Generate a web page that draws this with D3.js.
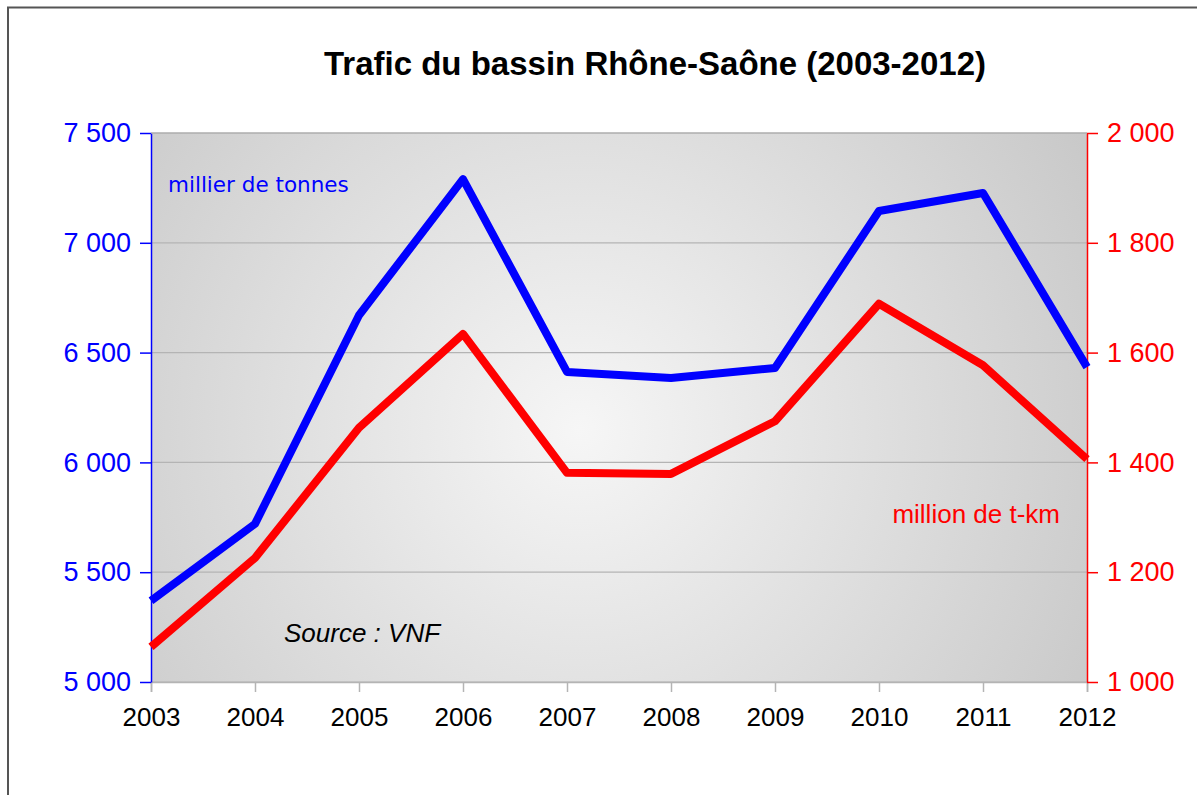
<!DOCTYPE html>
<html>
<head>
<meta charset="utf-8">
<script src="https://cdn.jsdelivr.net/npm/d3@7"></script>
<style>
body { margin: 0; background: #fff; }
text { font-family: "Liberation Sans", Arial, sans-serif; }
</style>
</head>
<body>
<script>
// data
var years = [2003, 2004, 2005, 2006, 2007, 2008, 2009, 2010, 2011, 2012];
var tonnes = [5370, 5720, 6670, 7290, 6412, 6384, 6430, 7145, 7227, 6434];
var tkm = [1064, 1226, 1463, 1634, 1381, 1379, 1475, 1689, 1577, 1406];
var leftTicks = [5000, 5500, 6000, 6500, 7000, 7500];
var rightTicks = [1000, 1200, 1400, 1600, 1800, 2000];

var W = 1197, H = 795;
var m = {left: 151, right: 1087, top: 133, bottom: 682};

var svg = d3.select("body").append("svg")
	.attr("width", W)
	.attr("height", H);

var defs = svg.append("defs");
var grad = defs.append("radialGradient")
	.attr("id", "bg")
	.attr("gradientUnits", "userSpaceOnUse")
	.attr("cx", 580).attr("cy", 430).attr("r", 580);
grad.append("stop").attr("offset", "0%").attr("stop-color", "#f6f6f6");
grad.append("stop").attr("offset", "100%").attr("stop-color", "#c9c9c9");

// frame
svg.append("path")
	.attr("d", "M8," + H + "V7.5H" + W)
	.attr("fill", "none")
	.attr("stroke", "#555")
	.attr("stroke-width", 2);

var x = d3.scaleLinear().domain([2003, 2012]).range([m.left, m.right]);
var yL = d3.scaleLinear().domain([5000, 7500]).range([m.bottom, m.top]);
var yR = d3.scaleLinear().domain([1000, 2000]).range([m.bottom, m.top]);

svg.append("rect")
	.attr("x", m.left).attr("y", m.top)
	.attr("width", m.right - m.left)
	.attr("height", m.bottom - m.top)
	.attr("fill", "url(#bg)");

// grid
svg.selectAll("line.grid")
	.data(leftTicks)
	.enter()
	.append("line")
	.attr("class", "grid")
	.attr("x1", m.left).attr("x2", m.right)
	.attr("y1", function(d) { return yL(d); })
	.attr("y2", function(d) { return yL(d); })
	.attr("stroke", "#b4b4b4")
	.attr("stroke-width", 1.2);

svg.append("text")
	.attr("x", 655).attr("y", 75)
	.attr("text-anchor", "middle")
	.style("font-size", "33px")
	.style("font-weight", "bold")
	.text("Trafic du bassin Rhône-Saône (2003-2012)");

// bottom axis
var xAxis = svg.append("g")
	.attr("transform", "translate(0," + m.bottom + ")")
	.call(d3.axisBottom(x).tickValues(years).tickFormat(d3.format("d")).tickSize(10).tickPadding(16));
xAxis.select(".domain").attr("stroke", "#b4b4b4").attr("stroke-width", 1.5);
xAxis.selectAll(".tick line").attr("stroke", "#b4b4b4").attr("stroke-width", 1.5);
xAxis.selectAll("text").attr("fill", "#000").style("font-size", "26px").style("font-family", "Liberation Sans, Arial, sans-serif");

var fmt = function(d) { return d3.format(",")(d).replace(",", " "); };

var lAxis = svg.append("g")
	.attr("transform", "translate(" + m.left + ",0)")
	.call(d3.axisLeft(yL).tickValues(leftTicks).tickFormat(fmt).tickSize(11).tickPadding(9).tickSizeOuter(0));
lAxis.select(".domain").attr("stroke", "#0000ff").attr("stroke-width", 1.5);
lAxis.selectAll(".tick line").attr("stroke", "#0000ff").attr("stroke-width", 1.5);
lAxis.selectAll("text").attr("fill", "#0000ff").style("font-size", "27px").style("font-family", "Liberation Sans, Arial, sans-serif");

var rAxis = svg.append("g")
	.attr("transform", "translate(" + m.right + ",0)")
	.call(d3.axisRight(yR).tickValues(rightTicks).tickFormat(fmt).tickSize(11).tickPadding(9).tickSizeOuter(0));
rAxis.select(".domain").attr("stroke", "#ff0000").attr("stroke-width", 1.5);
rAxis.selectAll(".tick line").attr("stroke", "#ff0000").attr("stroke-width", 1.5);
rAxis.selectAll("text").attr("fill", "#ff0000").style("font-size", "27px").style("font-family", "Liberation Sans, Arial, sans-serif");

svg.append("line")
	.attr("x1", m.left).attr("x2", m.right)
	.attr("y1", m.top).attr("y2", m.top)
	.attr("stroke", "#aaa").attr("stroke-width", 1.2);

// lines
var lineL = d3.line()
	.x(function(d, i) { return x(years[i]); })
	.y(function(d) { return yL(d); });
var lineR = d3.line()
	.x(function(d, i) { return x(years[i]); })
	.y(function(d) { return yR(d); });

svg.append("path")
	.datum(tkm)
	.attr("d", lineR)
	.attr("fill", "none")
	.attr("stroke", "#ff0000")
	.attr("stroke-width", 8)
	.attr("stroke-linejoin", "round");

svg.append("path")
	.datum(tonnes)
	.attr("d", lineL)
	.attr("fill", "none")
	.attr("stroke", "#0000ff")
	.attr("stroke-width", 8)
	.attr("stroke-linejoin", "round");

svg.append("text")
	.attr("x", 168).attr("y", 192)
	.attr("fill", "#0000ff")
	.style("font-family", "DejaVu Sans, sans-serif")
	.style("font-size", "21.5px")
	.text("millier de tonnes");

svg.append("text")
	.attr("x", 1060).attr("y", 523)
	.attr("text-anchor", "end")
	.attr("fill", "#ff0000")
	.style("font-size", "26px")
	.text("million de t-km");

svg.append("text")
	.attr("x", 284).attr("y", 642)
	.style("font-size", "26px")
	.style("font-style", "italic")
	.text("Source : VNF");
</script>
</body>
</html>
